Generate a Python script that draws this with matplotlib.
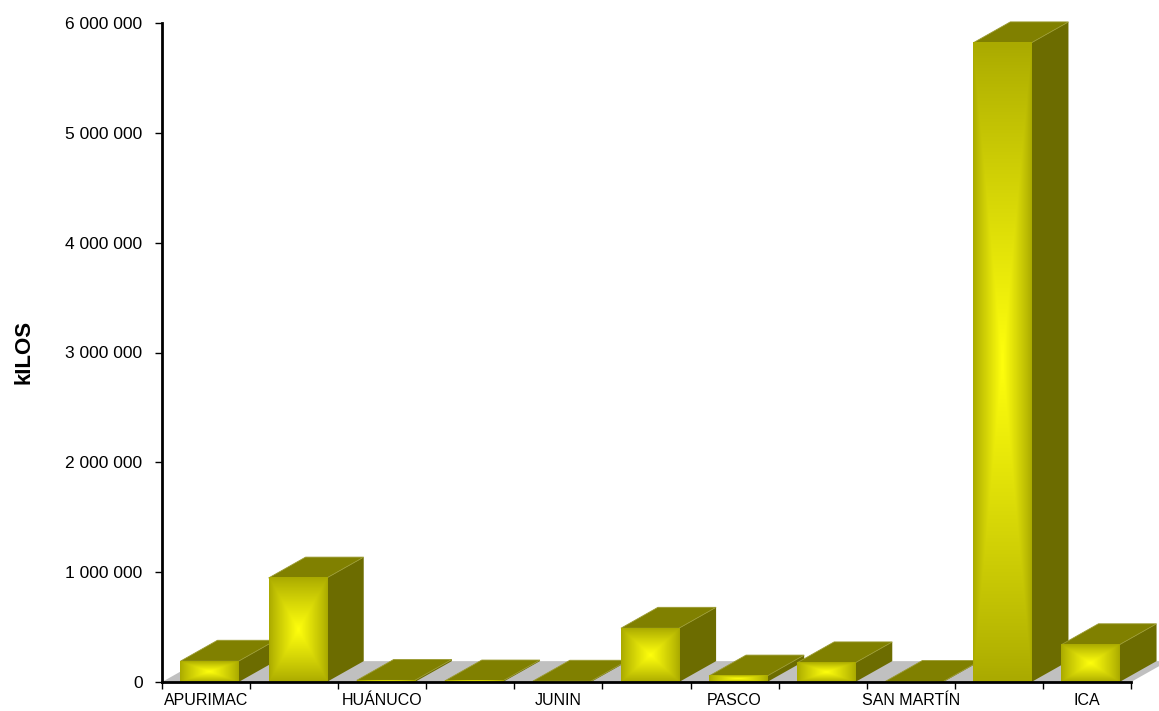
import numpy as np
import matplotlib.pyplot as plt
from matplotlib.patches import Polygon
from matplotlib.ticker import FuncFormatter

plt.rcParams['font.family'] = ['Liberation Sans', 'DejaVu Sans']

# data (kilos per region)
labels = ["APURIMAC", "", "HUÁNUCO", "", "JUNIN", "", "PASCO", "", "SAN MARTÍN", "", "ICA"]
kilos = [190000, 947000, 15000, 10000, 8000, 490000, 55000, 175000, 5000, 5820000, 340000]
y_ticks = [0, 1000000, 2000000, 3000000, 4000000, 5000000, 6000000]

# 3d look
OFF = 0.21        # front face start inside slot
WIDTH = 0.66      # front face width
DX = 0.42         # depth, x units
DY = 190000       # depth, y units
FRONT_EDGE = np.array([0.67, 0.67, 0.0])
FRONT_MID = np.array([1.0, 1.0, 0.05])
TOP_COL = "#808000"
SIDE_COL = "#6c6c00"
FLOOR_COL = "#c0c0c0"


def face_gradient(nx=60, ny=60):
    # rectangular "path" gradient: bright centre, darker edges
    u = np.linspace(-1, 1, nx)
    v = np.linspace(-1, 1, ny)
    U, V = np.meshgrid(u, v)
    t = np.maximum(np.abs(U), np.abs(V))
    k = (1 - t) ** 0.9
    return FRONT_EDGE * (1 - k[..., None]) + FRONT_MID * k[..., None]


fig = plt.figure(figsize=(11.59, 7.11), dpi=100)
ax = fig.add_axes([162 / 1159, 29 / 711, 969 / 1159, 659 / 711])

n = len(kilos)

# grey floor
floor = Polygon([(0, 0), (n, 0), (n + DX, DY), (DX, DY)], closed=True,
                facecolor=FLOOR_COL, edgecolor="none", zorder=1, clip_on=False)
ax.add_patch(floor)

grad = face_gradient()
for i, val in enumerate(kilos):
    x0 = i + OFF
    x1 = x0 + WIDTH
    z = 2 + 3 * i
    side = Polygon([(x1, 0), (x1 + DX, DY), (x1 + DX, val + DY), (x1, val)],
                   closed=True, facecolor=SIDE_COL, edgecolor="none",
                   zorder=z, clip_on=False)
    top = Polygon([(x0, val), (x1, val), (x1 + DX, val + DY), (x0 + DX, val + DY)],
                  closed=True, facecolor=TOP_COL, edgecolor="#9a9a30",
                  linewidth=0.6, zorder=z + 1, clip_on=False)
    ax.add_patch(side)
    ax.add_patch(top)
    im = ax.imshow(grad, extent=(x0, x1, 0, val), aspect="auto",
                   interpolation="bilinear", origin="lower", zorder=z + 2)
    im.set_clip_on(False)

ax.set_xlim(0, n)
ax.set_ylim(0, 6000000)

ax.set_xticks(range(n + 1))
ax.set_xticklabels([""] * (n + 1))
ax.set_xticks(np.arange(n) + 0.5, minor=True)
ax.set_xticklabels(labels, minor=True, fontsize=11.5)
ax.tick_params(axis="x", which="major", length=5, width=1, direction="out")
ax.tick_params(axis="x", which="minor", length=0, pad=8)

ax.set_yticks(y_ticks)
ax.yaxis.set_major_formatter(FuncFormatter(lambda v, p: f"{int(v):,}".replace(",", " ")))
ax.tick_params(axis="y", length=5, width=1, direction="out", labelsize=12.5, pad=9)

for s in ["top", "right"]:
    ax.spines[s].set_visible(False)
for s in ["left", "bottom"]:
    ax.spines[s].set_linewidth(2)
    ax.spines[s].set_zorder(100)

fig.text(24 / 1159, 1 - 352 / 711, "kILOS", rotation=90, fontsize=16,
         fontweight="bold", ha="center", va="center")

fig.savefig("out.png", dpi=100)
